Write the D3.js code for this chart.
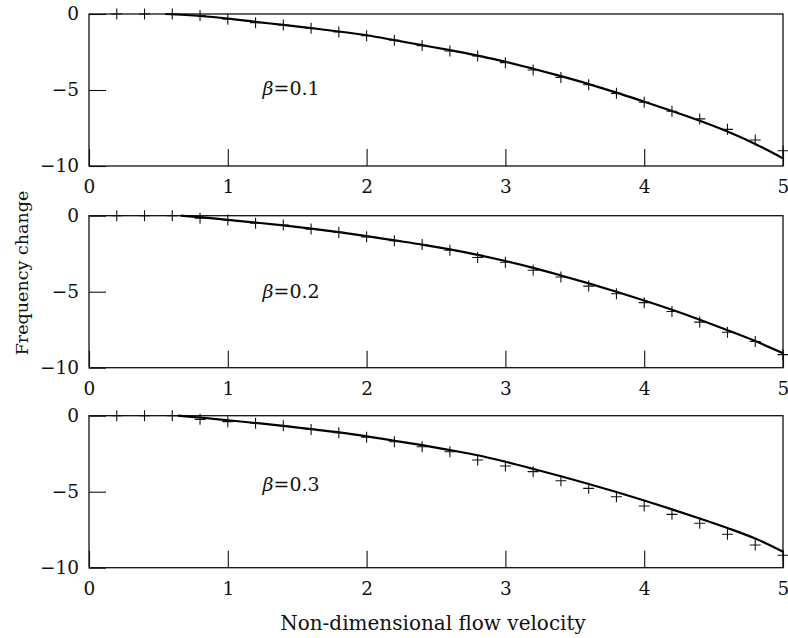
<!DOCTYPE html>
<html>
<head>
<meta charset="utf-8">
<script src="https://cdn.jsdelivr.net/npm/d3@7"></script>
<style>
  html, body { margin: 0; padding: 0; background: #fff; }
  svg { display: block; }
  text { font-family: "DejaVu Serif", serif; fill: #111; }
</style>
</head>
<body>
<svg id="chart" width="788" height="638"></svg>
<script>
// ---------- data ----------
const xMarkers = [0.2,0.4,0.6,0.8,1.0,1.2,1.4,1.6,1.8,2.0,2.2,2.4,2.6,2.8,3.0,3.2,3.4,3.6,3.8,4.0,4.2,4.4,4.6,4.8,5.0];
const markers01 = [0,0,0,-0.1,-0.35,-0.57,-0.72,-0.94,-1.18,-1.43,-1.73,-2.08,-2.43,-2.76,-3.2,-3.68,-4.17,-4.65,-5.22,-5.81,-6.4,-6.9,-7.59,-8.29,-9.0];
const markers02 = [0,0,0,-0.17,-0.28,-0.5,-0.61,-0.88,-1.1,-1.39,-1.65,-1.89,-2.27,-2.75,-3.06,-3.59,-4.03,-4.63,-5.13,-5.72,-6.3,-7.0,-7.67,-8.28,-9.14];
const markers03 = [0,0,0,-0.24,-0.39,-0.5,-0.66,-0.9,-1.12,-1.42,-1.71,-2.04,-2.37,-2.91,-3.31,-3.68,-4.28,-4.78,-5.33,-5.94,-6.49,-7.08,-7.8,-8.51,-9.18];

const curveX01 = [0.55,0.8,1.0,1.2,1.4,1.6,1.8,2.0,2.2,2.4,2.6,2.8,3.0,3.2,3.4,3.6,3.8,4.0,4.2,4.4,4.6,4.8,5.0];
const curve01  = [0,-0.13,-0.3,-0.52,-0.72,-0.93,-1.15,-1.4,-1.72,-2.05,-2.38,-2.74,-3.14,-3.6,-4.09,-4.61,-5.17,-5.77,-6.38,-7.02,-7.73,-8.55,-9.5];
const curveX02 = [0.66,0.8,1.0,1.2,1.4,1.6,1.8,2.0,2.2,2.4,2.6,2.8,3.0,3.2,3.4,3.6,3.8,4.0,4.2,4.4,4.6,4.8,5.0];
const curve02  = [0,-0.1,-0.27,-0.45,-0.64,-0.85,-1.08,-1.34,-1.62,-1.9,-2.22,-2.58,-2.98,-3.43,-3.93,-4.45,-5.0,-5.58,-6.19,-6.84,-7.53,-8.25,-9.05];
const curveX03 = [0.64,0.8,1.0,1.2,1.4,1.6,1.8,2.0,2.2,2.4,2.6,2.8,3.0,3.2,3.4,3.6,3.8,4.0,4.2,4.4,4.6,4.8,5.0];
const curve03  = [0,-0.12,-0.3,-0.48,-0.67,-0.88,-1.1,-1.36,-1.65,-1.94,-2.26,-2.6,-3.03,-3.5,-3.98,-4.49,-5.02,-5.58,-6.16,-6.76,-7.39,-8.08,-8.95];

const betaLabels = ["0.1","0.2","0.3"];
const xTicks = [0,1,2,3,4,5];
const yTicks = [0,-5,-10];
const xTitle = "Non-dimensional flow velocity";
const yTitle = "Frequency change";

// ---------- layout ----------
const svg = d3.select("#chart");
const left = 89, right = 783, panelH = 152;
const panelTops = [14, 215.7, 415.7];
const labelPos = [[1.25,-5.35],[1.25,-5.42],[1.25,-4.95]];

const panels = [
  {mx: xMarkers, my: markers01, cx: curveX01, cy: curve01, beta: betaLabels[0]},
  {mx: xMarkers, my: markers02, cx: curveX02, cy: curve02, beta: betaLabels[1]},
  {mx: xMarkers, my: markers03, cx: curveX03, cy: curve03, beta: betaLabels[2]}
];

const x = d3.scaleLinear().domain([0,5]).range([left, right]);

panels.forEach((p, i) => {
  const top = panelTops[i];
  const y = d3.scaleLinear().domain([0,-10]).range([top, top + panelH]);
  const g = svg.append("g");

  // axes (ticks pointing inward)
  const xa = g.append("g")
    .attr("transform", `translate(0,${top + panelH})`)
    .call(d3.axisBottom(x).tickValues(xTicks).tickSize(-17).tickSizeOuter(0).tickPadding(14).tickFormat(d3.format("d")));
  const ya = g.append("g")
    .attr("transform", `translate(${left},0)`)
    .call(d3.axisLeft(y).tickValues(yTicks).tickSize(-17).tickSizeOuter(0).tickPadding(10).tickFormat(d3.format("d")));
  [xa, ya].forEach(a => {
    a.select(".domain").remove();
    a.selectAll("line").attr("stroke", "#111").attr("stroke-width", 1.1);
    a.selectAll("text").attr("font-size", 18.5).attr("font-family", "DejaVu Serif").attr("fill", "#111");
  });

  // frame
  g.append("rect")
    .attr("x", x(0)).attr("y", y(0))
    .attr("width", x(5) - x(0)).attr("height", y(-10) - y(0))
    .attr("fill", "none").attr("stroke", "#111").attr("stroke-width", 1.3);

  // curve
  const line = d3.line().x(d => x(d[0])).y(d => y(d[1])).curve(d3.curveCatmullRom);
  g.append("path")
    .datum(p.cx.map((v, k) => [v, p.cy[k]]))
    .attr("d", line)
    .attr("fill", "none").attr("stroke", "#000").attr("stroke-width", 2.2);

  // plus markers
  const s = 5.5;
  g.selectAll("path.plus")
    .data(p.mx.map((v, k) => [v, p.my[k]]))
    .join("path")
    .attr("class", "plus")
    .attr("d", d => `M${x(d[0]) - s},${y(d[1])}H${x(d[0]) + s}M${x(d[0])},${y(d[1]) - s}V${y(d[1]) + s}`)
    .attr("stroke", "#111").attr("stroke-width", 1.1).attr("fill", "none");

  // beta label
  const t = g.append("text")
    .attr("x", x(labelPos[i][0])).attr("y", y(labelPos[i][1]))
    .attr("font-size", 19);
  t.append("tspan").attr("font-style", "italic").text("β");
  t.append("tspan").text("=" + p.beta);
});

// titles
svg.append("text")
  .attr("x", (left + right) / 2 - 3).attr("y", 630)
  .attr("text-anchor", "middle").attr("font-size", 20)
  .text(xTitle);
svg.append("text")
  .attr("transform", "translate(28,273) rotate(-90)")
  .attr("text-anchor", "middle").attr("font-size", 17.5)
  .text(yTitle);
</script>
</body>
</html>
